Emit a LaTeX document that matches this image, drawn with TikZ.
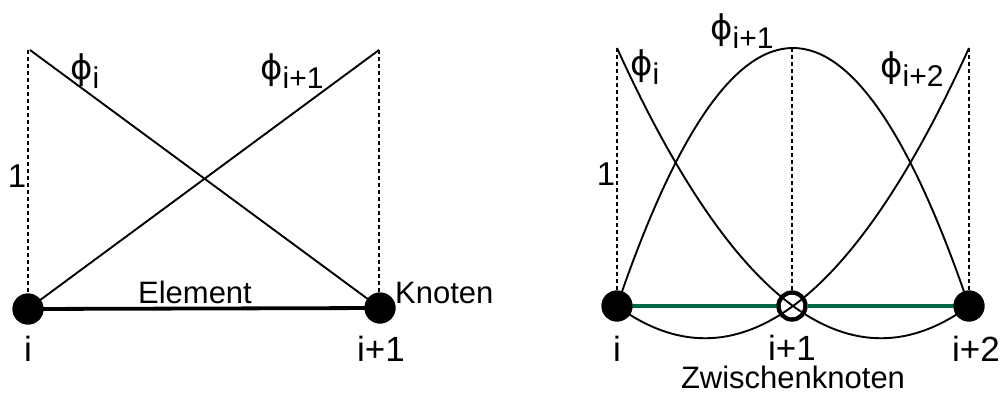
\documentclass[tikz,border=0pt]{standalone}
\usepackage{fontspec}
\setmainfont{Liberation Sans}
\newfontfamily\phifont{DejaVu Sans}
\definecolor{elemgreen}{RGB}{0,104,66}
\newcommand\phlab[1]{{\fontsize{34}{34}\selectfont\phifont ϕ}\raisebox{-9pt}{\fontsize{30}{30}\selectfont #1}}
\tikzset{
  thin line/.style={line width=1.9pt},
  guide/.style={line width=1.6pt, dash pattern=on 4pt off 3pt},
  fulldot/.style={circle, fill=black, minimum size=31pt, inner sep=0pt},
  opendot/.style={circle, draw=black, line width=4pt, minimum size=27pt, inner sep=0pt},
  lab/.style={anchor=base, inner sep=0pt, font=\fontsize{35}{35}\selectfont},
  txt/.style={anchor=base, inner sep=0pt, font=\fontsize{31}{31}\selectfont},
  phl/.style={anchor=base west, inner sep=0pt},
}
\begin{document}
\begin{tikzpicture}[x=1pt,y=-1pt]
\useasboundingbox (0,0) rectangle (1005,392);
% ---------- left: linear element ----------
\coordinate (Ltop1) at (28,50);
\coordinate (Ltop2) at (379,50);
\coordinate (Lgb1) at (28,292);
\coordinate (Lgb2) at (379,292);
\coordinate (Lphi1) at (30,50);
\draw[guide] (Ltop1) -- (Lgb1);
\draw[guide] (Ltop2) -- (Lgb2);
\node[fulldot] (L1) at (28,309) {};
\node[fulldot] (L2) at (380,308) {};
\draw[line width=3.8pt] (L1.center) -- (L2.center);
\draw[thin line] (Lphi1) -- (L2.center);
\draw[thin line] (L1.center) -- (Ltop2);
\node[fulldot] at (L1) {};
\node[fulldot] at (L2) {};
\node[txt] (elem) at (195,303) {Element};
\node[txt, anchor=base west] (knot) at (395,303) {Knoten};
\node[lab] (li) at (28,361) {i};
\node[lab] (li1) at (381,361) {i+1};
\node[txt, font=\fontsize{33}{33}\selectfont] (lone) at (17,187) {1};
\node[phl] (lp1) at (70,79) {\phlab{i}};
\node[phl] (lp2) at (260,79) {\phlab{i+1}};
% ---------- right: quadratic element ----------
\coordinate (Rtop1) at (617,48);
\coordinate (Rtop2) at (792,48);
\coordinate (Rtop3) at (969,48);
\coordinate (Rgb1) at (617,293);
\coordinate (Rgb2) at (792,293);
\coordinate (Rgb3) at (969,293);
\draw[guide] (Rtop1) -- (Rgb1);
\draw[guide] (Rtop2) -- (Rgb2);
\draw[guide] (Rtop3) -- (Rgb3);
\node[fulldot] (R1) at (617,306) {};
\node[opendot] (R2) at (792,306) {};
\node[fulldot] (R3) at (969,306) {};
\draw[line width=4pt, elemgreen] (R1.center) -- (R2.west);
\draw[line width=4pt, elemgreen] (R2.east) -- (R3.center);
% phi_i
\draw[thin line] (Rtop1) .. controls (734.3,306) and (851.7,392) .. (R3.center);
% phi_{i+1}
\draw[thin line] (R1.center) .. controls (734.3,-38) and (851.7,-38) .. (R3.center);
% phi_{i+2}
\draw[thin line] (R1.center) .. controls (734.3,392) and (851.7,306) .. (Rtop3);
\node[fulldot] at (R1) {};
\node[fulldot] at (R3) {};
\node[opendot] at (R2) {};
\node[lab] (ri) at (617,361) {i};
\node[lab] (ri1) at (792,360) {i+1};
\node[lab] (ri2) at (976,361) {i+2};
\node[txt] (zw) at (793,388) {Zwischenknoten};
\node[txt, font=\fontsize{33}{33}\selectfont] (rone) at (606,185) {1};
\node[phl] (rp1) at (630,75) {\phlab{i}};
\node[phl] (rp2) at (710,39) {\phlab{i+1}};
\node[phl] (rp3) at (880,77) {\phlab{i+2}};
\end{tikzpicture}
\end{document}
